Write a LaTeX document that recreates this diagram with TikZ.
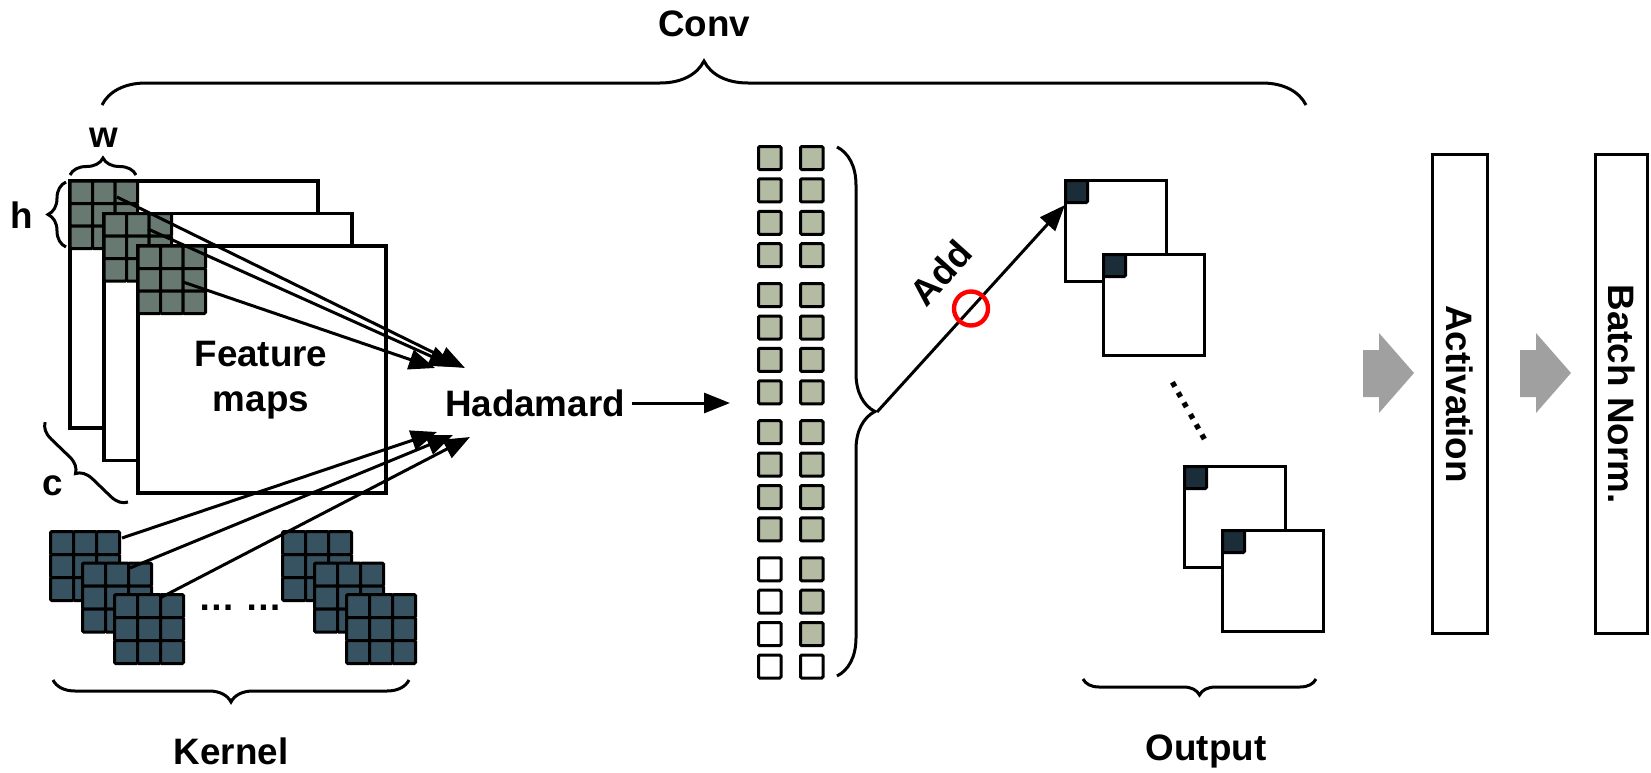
\documentclass[tikz,border=0pt]{standalone}
\usepackage{fontspec}
\setmainfont{Liberation Sans}
\usepackage{tikz}
\usetikzlibrary{arrows.meta,decorations.pathreplacing}
\definecolor{mapgreen}{RGB}{103,121,112}
\definecolor{kernelblue}{RGB}{55,82,96}
\definecolor{cellbeige}{RGB}{179,187,163}
\definecolor{outnavy}{RGB}{27,45,56}
\definecolor{arrowgray}{RGB}{160,160,160}
\newcommand{\lbl}{\fontsize{18.4}{22.5}\selectfont\bfseries}

\begin{document}
\begin{tikzpicture}[x=0.5pt, y=-0.5pt,
    every node/.style={font=\lbl},
    fmap/.style={draw, line width=1.7pt, fill=white},
    cell/.style={draw, line width=1.5pt, rounded corners=0.6pt},
    bar/.style={draw, line width=1.5pt, rotate=-90, minimum width=239.5pt, minimum height=27.5pt},
    arr/.style={-{Triangle[length=13pt, width=10pt]}, line width=1.5pt},
    brc/.style={decorate, decoration={brace, amplitude=#1}, line width=1.5pt},
    pics/kgrid/.style 2 args={code={
        \foreach \i in {0,1,2}
          \foreach \j in {0,1,2}
            \draw[cell, fill=#1] (\i*#2,\j*#2) rectangle ++(#2,#2);
    }}]
\useasboundingbox (0,0) rectangle (1651,772);

% feature maps, window in the corner of each
\foreach \k in {0,1,2} {
  \draw[fmap] (70+34*\k, 181+32.5*\k) rectangle ++(248,247);
  \pic at (70+34*\k, 181+32.5*\k) {kgrid={mapgreen}{22.5}};
}
\node[align=center] (fm) at (261,380) {Feature\\maps};
\draw[brc=8.5pt] (70,175) -- (136,175);
\node (w) at (104,138) {w};
\draw[brc=9pt] (66,247) -- (66,182);
\node (h) at (22,215) {h};
\draw[brc=8pt] (128,502) -- (45,422);
\node (c) at (53,486) {c};

% kernels
\foreach \s in {0,232}
  \foreach \k in {0,1,2}
    \pic at (50.5+\s+32*\k, 531.5+31.5*\k) {kgrid={kernelblue}{23}};
\node (kdots) at (240,608) {… …};
\draw[brc=11pt] (409,680) -- (53,680);
\node (kernel) at (231,751) {Kernel};

% element-wise product
\node (had) at (535,403) {Hadamard};
\coordinate (m0) at (117,197);
\coordinate (m1) at (148,229);
\coordinate (m2) at (183,282);
\coordinate (k0) at (122,538);
\coordinate (k1) at (130,568);
\coordinate (k2) at (160,598);
\coordinate (h0) at (465,368);
\coordinate (h1) at (455,367);
\coordinate (h2) at (435,368);
\coordinate (h3) at (437,432);
\coordinate (h4) at (453,435);
\coordinate (h5) at (470,437);
\foreach \a/\b in {m0/h0, m1/h1, m2/h2, k0/h3, k1/h4, k2/h5}
  \draw[arr] (\a) -- (\b);

% products
\coordinate (colin) at (730,403);
\draw[arr] (had) -- (colin);
\foreach \r in {0,...,15} {
  \pgfmathsetmacro{\yy}{146.5+32.4*\r+7.5*floor(\r/4)}
  \ifnum\r<12 \def\fa{cellbeige}\else\def\fa{white}\fi
  \ifnum\r<15 \def\fb{cellbeige}\else\def\fb{white}\fi
  \draw[cell, fill=\fa] (758.5,\yy) rectangle ++(22.5,23);
  \draw[cell, fill=\fb] (800.5,\yy) rectangle ++(22.5,23);
}
\draw[brc=19pt] (837,147) -- (837,676);
\coordinate (sum) at (877,412);

% output maps
\foreach \x/\y in {1065.5/180.5, 1103.5/254.5, 1184.5/466.5, 1222.5/530.5} {
  \draw[fmap] (\x,\y) rectangle ++(101,101);
  \draw[cell, fill=outnavy] (\x,\y) rectangle ++(22,22);
}
\coordinate (o1) at (1065,205);
\draw[arr] (sum) -- node[pos=0.5, circle, draw=red, line width=2.2pt, minimum size=17pt, inner sep=0pt] (plus) {} (o1);
\node[rotate=48] (add) at (941,273) {Add};
\node[rotate=-60.6] (odots) at (1189,411) {……};
\draw[brc=8pt] (1316,679) -- (1083,679);
\node (output) at (1206,751) {Output};

% activation and batch norm
\foreach \x in {1363,1520}
  \fill[arrowgray] (\x,350) -- ++(16,0) -- ++(0,-17) -- ++(35,40) -- ++(-35,40) -- ++(0,-16) -- ++(-16,0) -- cycle;
\node[bar] (act) at (1460,394) {Activation};
\node[bar, minimum height=26pt] (bn) at (1621.5,394) {Batch Norm.};

\draw[brc=22pt] (102,105) -- (1306,105);
\node (conv) at (704,24) {Conv};
\end{tikzpicture}
\end{document}
